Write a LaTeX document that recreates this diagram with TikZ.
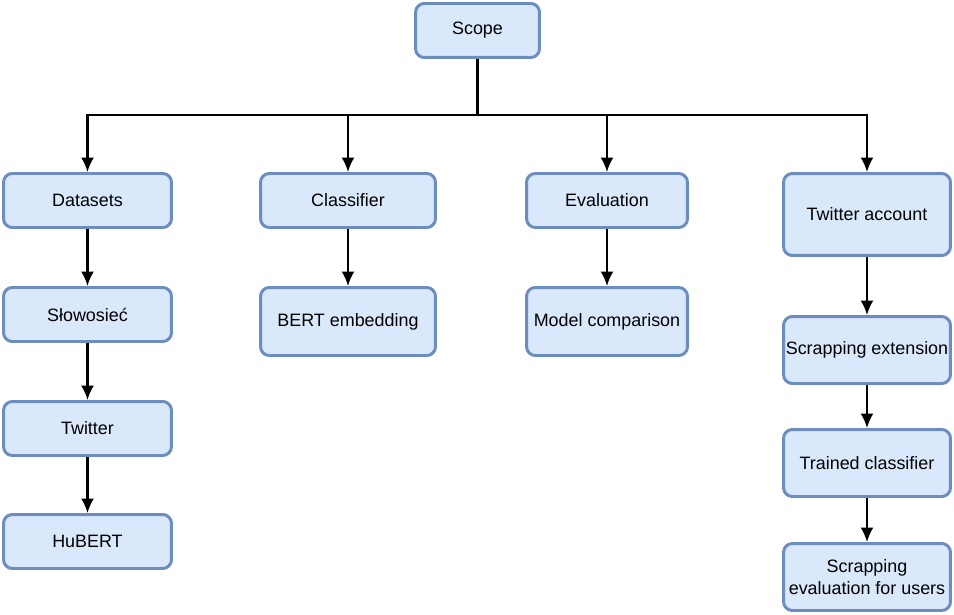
\documentclass[tikz,border=0pt]{standalone}
\usepackage{xcolor}
\usepackage{fontspec}
\setmainfont{Liberation Sans}
\usepackage{tikz}
\usetikzlibrary{calc}
\usetikzlibrary{arrows.meta}
\usetikzlibrary{positioning}
\definecolor{boxfill}{HTML}{DAE8FC}
\definecolor{boxline}{HTML}{6C8EBF}
\tikzset{>={Latex[length=2.9mm,width=2.6mm]}}
\tikzstyle{blk} = [rectangle, rounded corners=5pt, draw=boxline, fill=boxfill, line width=1.7pt, align=center, font=\fontsize{10.2}{12.2}\selectfont, inner sep=1pt]
\tikzstyle{lnk} = [->, draw=black, line width=1.2pt]

\begin{document}
\begin{tikzpicture}[x=0.02cm, y=-0.02cm]
\useasboundingbox (0,0) rectangle (954,615);
\node [blk, minimum width=2.48cm, minimum height=1.08cm] (S) at (477.5, 30.5) {Scope};
\node [blk, minimum width=3.36cm, minimum height=1.08cm] (D) at (87.5, 200.5) {Datasets};
\node [blk, minimum width=3.5cm, minimum height=1.08cm] (C) at (348, 200.5) {Classifier};
\node [blk, minimum width=3.22cm, minimum height=1.08cm] (E) at (607, 200.5) {Evaluation};
\node [blk, minimum width=3.34cm, minimum height=1.64cm] (T) at (867, 214.5) {Twitter account};
\node [blk, minimum width=3.36cm, minimum height=1.08cm] (D1) at (87.5, 314.5) {Słowosieć};
\node [blk, minimum width=3.36cm, minimum height=1.08cm] (D2) at (87.5, 428.5) {Twitter};
\node [blk, minimum width=3.36cm, minimum height=1.08cm] (D3) at (87.5, 541.5) {HuBERT};
\node [blk, minimum width=3.5cm, minimum height=1.36cm] (C1) at (348, 321.5) {BERT embedding};
\node [blk, minimum width=3.22cm, minimum height=1.36cm] (E1) at (607, 321.5) {Model comparison};
\node [blk, minimum width=3.34cm, minimum height=1.34cm] (T1) at (867, 350) {Scrapping extension};
\node [blk, minimum width=3.34cm, minimum height=1.34cm] (T2) at (867, 463) {Trained classifier};
\node [blk, minimum width=3.34cm, minimum height=1.34cm] (T3) at (867, 577) {Scrapping\\evaluation for users};
\coordinate (J) at (477.5, 115);
\draw [-, line width=1.2pt] (S) -- (J);
\draw [lnk] (J) -| (D);
\draw [lnk] (J) -| (C);
\draw [lnk] (J) -| (E);
\draw [lnk] (J) -| (T);
\draw [lnk] (D) to (D1);
\draw [lnk] (D1) to (D2);
\draw [lnk] (D2) to (D3);
\draw [lnk] (C) to (C1);
\draw [lnk] (E) to (E1);
\draw [lnk] (T) to (T1);
\draw [lnk] (T1) to (T2);
\draw [lnk] (T2) to (T3);
\end{tikzpicture}
\end{document}
